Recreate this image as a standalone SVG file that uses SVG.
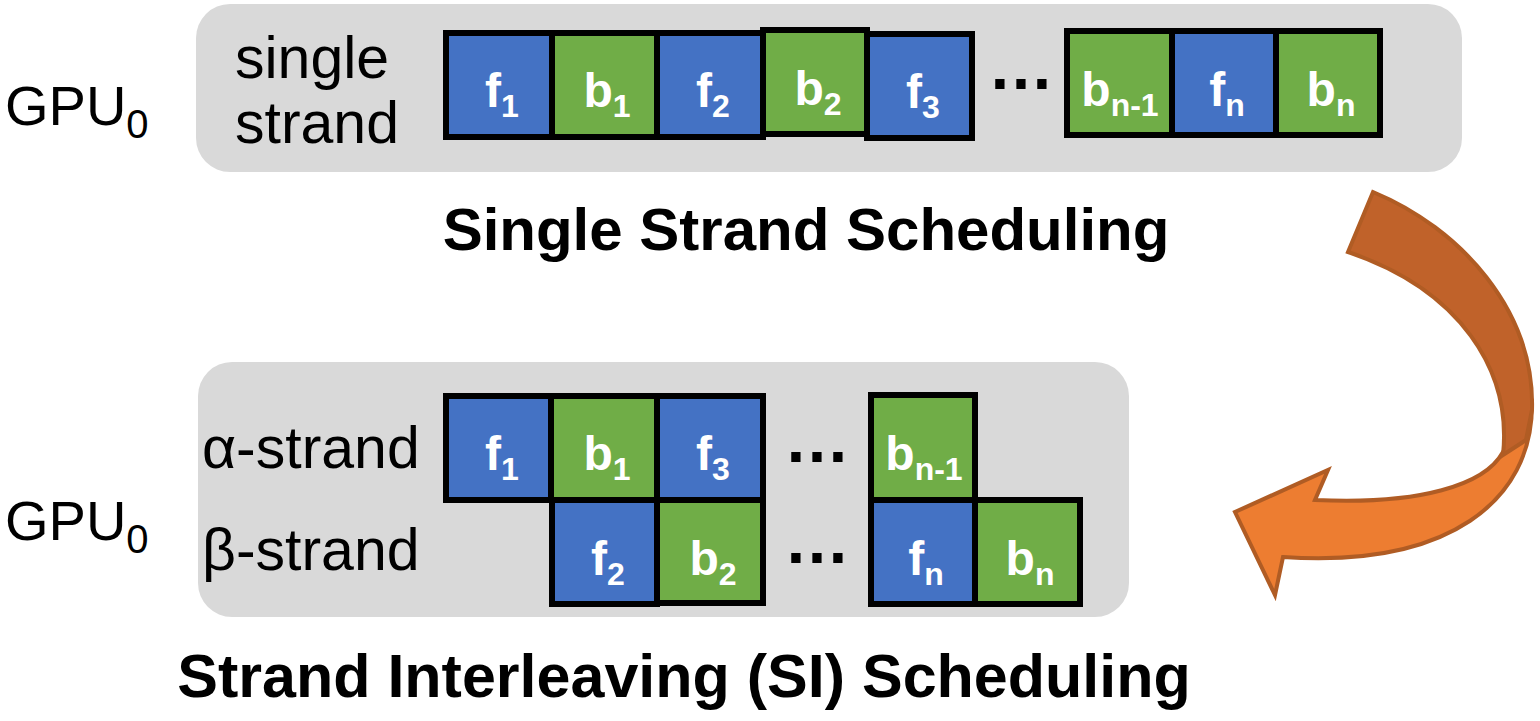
<svg xmlns="http://www.w3.org/2000/svg" width="1540" height="721" viewBox="0 0 1540 721">
<style>
.panel{fill:#D9D9D9}
.f{fill:#4472C4;stroke:#000;stroke-width:6}
.b{fill:#70AD47;stroke:#000;stroke-width:6}
.lbl{font-family:"Liberation Sans Narrow","Arial Narrow","Liberation Sans",Arial,sans-serif;font-weight:bold;font-size:48px;fill:#fff;text-anchor:middle}
.sub{font-size:32px}
.side{font-family:"Liberation Sans",Arial,sans-serif;font-size:59px;fill:#000}
.gpu{font-family:"Liberation Sans",Arial,sans-serif;font-size:56px;fill:#000}
.title{font-family:"Liberation Sans",Arial,sans-serif;font-weight:bold;font-size:60px;fill:#000;text-anchor:middle}
.dots{font-family:"Liberation Sans",Arial,sans-serif;font-weight:bold;font-size:66px;fill:#000;text-anchor:middle}
.arrow{stroke:#B05C24;stroke-width:4;stroke-linejoin:miter}
</style>
<rect width="1540" height="721" fill="#fff"/>

<g id="single-strand-panel">
<rect class="panel" x="196" y="4" width="1266" height="168" rx="34"/>
<text class="gpu" x="5" y="125">GPU<tspan font-size="40" dy="13">0</tspan></text>
<text class="side" x="235" y="78">single</text>
<text class="side" x="235" y="143">strand</text>
</g>

<g id="top-f1"><rect class="f" x="446" y="33" width="106" height="104"/><text class="lbl" x="502" y="107">f<tspan class="sub" dy="10">1</tspan></text></g>
<g id="top-b1"><rect class="b" x="552" y="33" width="105" height="104"/><text class="lbl" x="607" y="107">b<tspan class="sub" dy="10">1</tspan></text></g>
<g id="top-f2"><rect class="f" x="657" y="33" width="106" height="104"/><text class="lbl" x="713" y="107">f<tspan class="sub" dy="10">2</tspan></text></g>
<g id="top-b2"><rect class="b" x="763" y="30" width="104" height="104"/><text class="lbl" x="818" y="105">b<tspan class="sub" dy="10">2</tspan></text></g>
<g id="top-f3"><rect class="f" x="867" y="34" width="105" height="104"/><text class="lbl" x="923" y="108">f<tspan class="sub" dy="10">3</tspan></text></g>
<g id="top-dots"><text class="dots" x="1021" y="89">…</text></g>
<g id="top-bn-1"><rect class="b" x="1067" y="31" width="105" height="104"/><text class="lbl" x="1120" y="106">b<tspan class="sub" dy="10">n-1</tspan></text></g>
<g id="top-fn"><rect class="f" x="1172" y="31" width="104" height="104"/><text class="lbl" x="1227" y="106">f<tspan class="sub" dy="10">n</tspan></text></g>
<g id="top-bn"><rect class="b" x="1276" y="31" width="104" height="104"/><text class="lbl" x="1331" y="106">b<tspan class="sub" dy="10">n</tspan></text></g>

<text class="title" x="806" y="250">Single Strand Scheduling</text>

<g id="si-panel">
<rect class="panel" x="198" y="362" width="931" height="255" rx="34"/>
<text class="gpu" x="5" y="540">GPU<tspan font-size="40" dy="13">0</tspan></text>
<text class="side" x="202" y="468">α-strand</text>
<text class="side" x="202" y="570">β-strand</text>
</g>

<g id="a-f1"><rect class="f" x="446" y="396" width="105" height="104"/><text class="lbl" x="502" y="470">f<tspan class="sub" dy="10">1</tspan></text></g>
<g id="a-b1"><rect class="b" x="551" y="396" width="106" height="104"/><text class="lbl" x="607" y="470">b<tspan class="sub" dy="10">1</tspan></text></g>
<g id="a-f3"><rect class="f" x="657" y="396" width="106" height="104"/><text class="lbl" x="713" y="470">f<tspan class="sub" dy="10">3</tspan></text></g>
<g id="a-dots"><text class="dots" x="817" y="462">…</text></g>
<g id="a-bn-1"><rect class="b" x="871" y="395" width="104" height="105"/><text class="lbl" x="924" y="470">b<tspan class="sub" dy="10">n-1</tspan></text></g>

<g id="b-f2"><rect class="f" x="552" y="500" width="105" height="104"/><text class="lbl" x="608" y="575">f<tspan class="sub" dy="10">2</tspan></text></g>
<g id="b-b2"><rect class="b" x="657" y="500" width="106" height="103"/><text class="lbl" x="713" y="575">b<tspan class="sub" dy="10">2</tspan></text></g>
<g id="b-dots"><text class="dots" x="817" y="563">…</text></g>
<g id="b-fn"><rect class="f" x="871" y="500" width="104" height="104"/><text class="lbl" x="926" y="575">f<tspan class="sub" dy="10">n</tspan></text></g>
<g id="b-bn"><rect class="b" x="975" y="500" width="105" height="104"/><text class="lbl" x="1030" y="575">b<tspan class="sub" dy="10">n</tspan></text></g>

<text class="title" x="684" y="697" style="font-size:61px">Strand Interleaving (SI) Scheduling</text>

<g id="connectors">
<path class="arrow" fill="#ED7D31" d="M1532,405 C1532,500 1450,568 1283,557 L1275,595 L1235,512 L1328,470 L1315,500 C1420,505 1485,485 1503,452 Z"/>
<path class="arrow" fill="#C0622A" d="M1373,192 C1460,228 1535,310 1532,410 L1526,440 L1503,455 C1512,370 1460,290 1348,252 Z"/>
</g>
</svg>
